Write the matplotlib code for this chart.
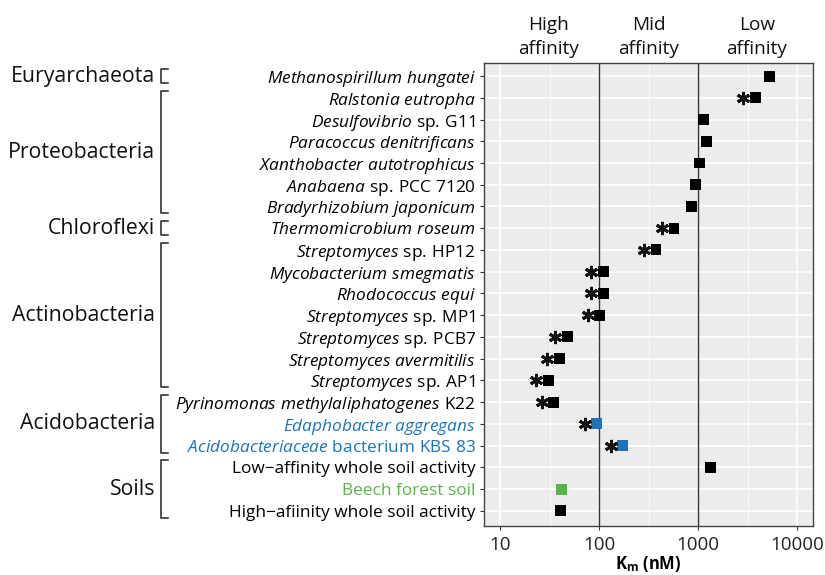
import numpy as np
import matplotlib
matplotlib.use("Agg")
import matplotlib.pyplot as plt
from matplotlib.transforms import blended_transform_factory

plt.rcParams['font.family'] = ['Open Sans', 'DejaVu Sans']
plt.rcParams['mathtext.fontset'] = 'custom'
plt.rcParams['mathtext.rm'] = 'Open Sans'
plt.rcParams['mathtext.it'] = 'Open Sans:italic'
plt.rcParams['mathtext.bf'] = 'Open Sans:bold'

# Datos (de arriba hacia abajo)
organismos = [
    r"$\mathit{Methanospirillum\ hungatei}$",
    r"$\mathit{Ralstonia\ eutropha}$",
    r"$\mathit{Desulfovibrio}\ \mathrm{sp.}\,\mathrm{G11}$",
    r"$\mathit{Paracoccus\ denitrificans}$",
    r"$\mathit{Xanthobacter\ autotrophicus}$",
    r"$\mathit{Anabaena}\ \mathrm{sp.}\,\mathrm{PCC\ 7120}$",
    r"$\mathit{Bradyrhizobium\ japonicum}$",
    r"$\mathit{Thermomicrobium\ roseum}$",
    r"$\mathit{Streptomyces}\ \mathrm{sp.}\,\mathrm{HP12}$",
    r"$\mathit{Mycobacterium\ smegmatis}$",
    r"$\mathit{Rhodococcus\ equi}$",
    r"$\mathit{Streptomyces}\ \mathrm{sp.}\,\mathrm{MP1}$",
    r"$\mathit{Streptomyces}\ \mathrm{sp.}\,\mathrm{PCB7}$",
    r"$\mathit{Streptomyces\ avermitilis}$",
    r"$\mathit{Streptomyces}\ \mathrm{sp.}\,\mathrm{AP1}$",
    r"$\mathit{Pyrinomonas\ methylaliphatogenes}\ \mathrm{K22}$",
    r"$\mathit{Edaphobacter\ aggregans}$",
    r"$\mathit{Acidobacteriaceae}\ \mathrm{bacterium\ KBS\ 83}$",
    "Low\u2212affinity whole soil activity",
    "Beech forest soil",
    "High\u2212afiinity whole soil activity",
]
km = [5200, 3750, 1120, 1200, 1020, 930, 860, 570, 375, 111, 110, 102,
      48, 39.5, 31, 35, 95, 174, 1340, 42, 41]
asterisco = [0, 1, 0, 0, 0, 0, 0, 1, 1, 1, 1, 1, 1, 1, 1, 1, 1, 1, 0, 0, 0]
grupo_color = ['k'] * 16 + ['azul', 'azul', 'k', 'verde', 'k']

filos = ["Euryarchaeota", "Proteobacteria", "Chloroflexi", "Actinobacteria",
         "Acidobacteria", "Soils"]
filo_inicio = [0, 1, 7, 8, 15, 18]
filo_fin = [0, 6, 7, 14, 17, 20]

afinidad = ["High\naffinity", "Mid\naffinity", "Low\naffinity"]
afinidad_x = [31, 316, 3900]

colores = {'k': '#000000', 'azul': '#1a75bc', 'verde': '#5ab34a'}

fig = plt.figure(figsize=(8.25, 5.75), dpi=100)
ax = fig.add_axes([0.5867, 0.0852, 0.3988, 0.8052])
ax.set_facecolor('#ebeceb')

y = np.arange(len(km))
ax.set_xscale('log')
ax.set_xlim(6.9, 14400)
ax.set_ylim(20.7, -0.6)

# rejilla tipo ggplot
for v in [10, 100, 1000, 10000]:
    ax.axvline(v, color='white', lw=1.2, zorder=0)
for v in [10**1.5, 10**2.5, 10**3.5]:
    ax.axvline(v, color='white', lw=0.6, zorder=0)
for yy in y:
    ax.axhline(yy, color='white', lw=1.2, zorder=0)
ax.axvline(100, color='#333333', lw=1.0, zorder=1)
ax.axvline(1000, color='#333333', lw=1.0, zorder=1)

cols = [colores[c] for c in grupo_color]
ax.scatter(km, y, marker='s', s=62, c=cols, zorder=3, linewidths=0)

ka = np.array(km)[np.array(asterisco) == 1]
ya = y[np.array(asterisco) == 1]
ax.plot(ka / 1.33, ya, ls='none', marker=(6, 2, 0), ms=9.5, mew=2.1,
        color='#111111', zorder=3)

ax.set_xticks([10, 100, 1000, 10000])
ax.set_xticklabels(["10", "100", "1000", "10000"])
ax.minorticks_off()
ax.set_yticks(y)
ax.set_yticklabels(organismos)
for lab, c in zip(ax.get_yticklabels(), grupo_color):
    lab.set_color(colores[c])
ax.tick_params(axis='y', length=3, width=0.8, color='#333333', labelsize=12.4, pad=3)
ax.tick_params(axis='x', length=3, width=0.8, color='#333333', labelsize=13.5,
               labelcolor='#222222', pad=4)
for s in ax.spines.values():
    s.set_color('#444444')
    s.set_linewidth(1.0)

ax.set_xlabel(r"K$_\mathbf{m}$ (nM)", fontsize=12, fontweight='bold', labelpad=0)

# etiquetas de afinidad arriba
for t, xv in zip(afinidad, afinidad_x):
    ax.text(xv, -0.85, t, ha='center', va='bottom', fontsize=13.7,
            linespacing=1.4, color='#111111')

# corchetes de filos
tr = blended_transform_factory(fig.transFigure, ax.transData)
xb0, xb1 = 161 / 825, 168 / 825
for nombre, i0, i1 in zip(filos, filo_inicio, filo_fin):
    a, b = i0 - 0.32, i1 + 0.32
    ax.plot([xb1, xb0, xb0, xb1], [a, a, b, b], color='#333333', lw=1.2,
            transform=tr, clip_on=False)
    ax.text(155 / 825, (i0 + i1) / 2, nombre, transform=tr, ha='right',
            va='center', fontsize=15.3, color='#111111')

fig.savefig("out.png", dpi=100)
